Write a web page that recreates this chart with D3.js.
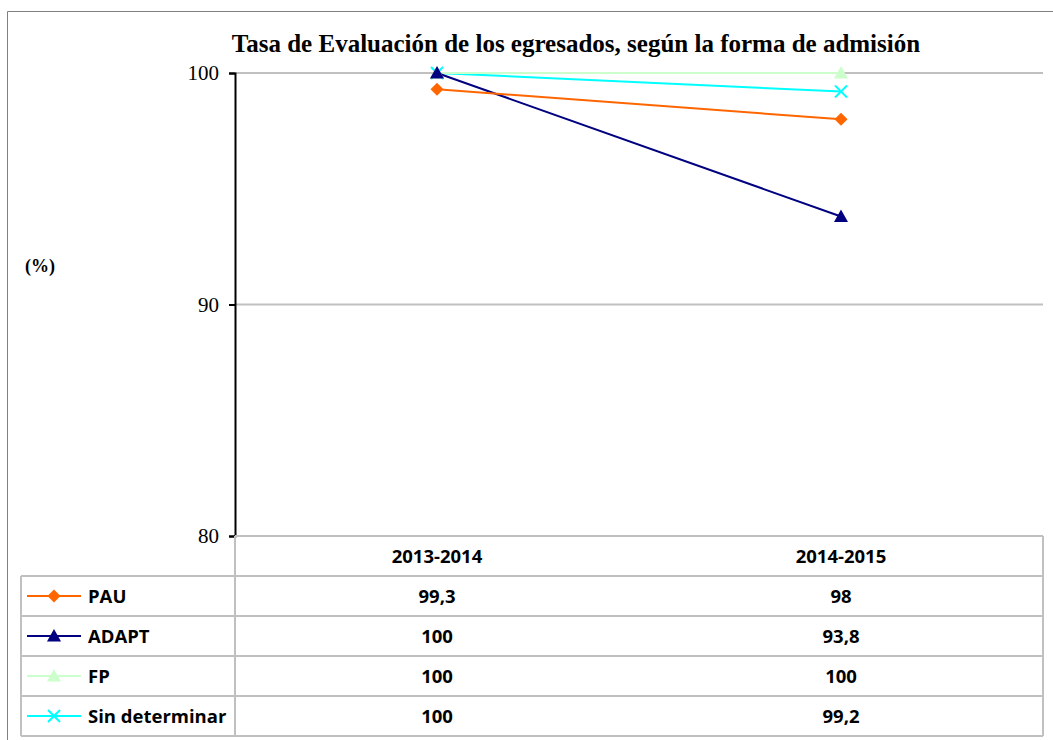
<!DOCTYPE html>
<html>
<head>
<meta charset="utf-8">
<script src="https://cdn.jsdelivr.net/npm/d3@7/dist/d3.min.js"></script>
<style>
  body { margin: 0; background: #fff; }
  svg { display: block; }
</style>
</head>
<body>
<svg id="chart" width="1053" height="740"></svg>
<script>
// Academic years on the x axis
const years = ["2013-2014", "2014-2015"];
// Evaluation rate (%) by admission route
const seriesNames = ["PAU", "ADAPT", "FP", "Sin determinar"];
const pauValues = [99.3, 98];
const adaptValues = [100, 93.8];
const fpValues = [100, 100];
const sinDetValues = [100, 99.2];
const seriesColors = ["#FF6600", "#000080", "#CCFFCC", "#00FFFF"];
const seriesMarkers = ["diamond", "triangle", "triangle", "cross"];
const yTicks = [80, 90, 100];
const chartTitle = "Tasa de Evaluación de los egresados, según la forma de admisión";
const axisTitle = "(%)";

const series = seriesNames.map((name, i) => ({
  name,
  values: [pauValues, adaptValues, fpValues, sinDetValues][i],
  color: seriesColors[i],
  marker: seriesMarkers[i]
}));

const svg = d3.select("#chart");
const plot = { left: 235, right: 1043, top: 73, bottom: 536 };
const rowH = 40;

const x = d3.scaleBand().domain(years).range([plot.left, plot.right]);
const y = d3.scaleLinear().domain([80, 100]).range([plot.bottom, plot.top]);

const fmt = v => String(v).replace(".", ",");
const grid = "#c0c0c0";
const serif = "Liberation Serif, Times New Roman, serif";

// outer chart frame
svg.append("path")
  .attr("d", "M7.5,740 L7.5,11.5 L1053,11.5")
  .attr("fill", "none").attr("stroke", "#808080").attr("stroke-width", 1);

// title
svg.append("text")
  .attr("x", 576).attr("y", 52)
  .attr("text-anchor", "middle")
  .attr("font-family", serif)
  .attr("font-weight", "bold").attr("font-size", 25)
  .text(chartTitle);

// axis title
svg.append("text")
  .attr("x", 25).attr("y", 272)
  .attr("font-family", serif)
  .attr("font-weight", "bold").attr("font-size", 18)
  .text(axisTitle);

// horizontal gridlines
svg.append("g").selectAll("line")
  .data(yTicks.filter(t => t !== 80))
  .join("line")
  .attr("x1", plot.left).attr("x2", plot.right)
  .attr("y1", d => y(d)).attr("y2", d => y(d))
  .attr("stroke", grid).attr("stroke-width", 2);

// y axis
const yAxis = d3.axisLeft(y).tickValues(yTicks).tickSize(6).tickPadding(10);
const gy = svg.append("g").attr("transform", `translate(${plot.left},0)`).call(yAxis);
gy.select(".domain").attr("stroke", "#000").attr("stroke-width", 2);
gy.selectAll(".tick line").attr("stroke", "#000").attr("stroke-width", 2);
gy.selectAll(".tick text")
  .attr("font-family", serif)
  .attr("font-size", 21).attr("fill", "#000");

// data table below the plot
const tbl = svg.append("g");
const tableTop = plot.bottom;
const tableLeft = 21;
const nRows = series.length;
// horizontal rules
tbl.append("line").attr("x1", plot.left).attr("x2", plot.right)
  .attr("y1", tableTop).attr("y2", tableTop).attr("stroke", grid).attr("stroke-width", 2);
d3.range(1, nRows + 2).forEach(r => {
  tbl.append("line").attr("x1", tableLeft).attr("x2", plot.right)
    .attr("y1", tableTop + r * rowH).attr("y2", tableTop + r * rowH)
    .attr("stroke", grid).attr("stroke-width", 2);
});
// vertical rules
tbl.append("line").attr("x1", tableLeft).attr("x2", tableLeft)
  .attr("y1", tableTop + rowH).attr("y2", tableTop + (nRows + 1) * rowH)
  .attr("stroke", grid).attr("stroke-width", 2);
[plot.left, plot.right].forEach(xx => {
  tbl.append("line").attr("x1", xx).attr("x2", xx)
    .attr("y1", tableTop).attr("y2", tableTop + (nRows + 1) * rowH)
    .attr("stroke", grid).attr("stroke-width", 2);
});

const tableFont = "Open Sans, Noto Sans, sans-serif";
const tableSize = 18.5;
// header
tbl.selectAll(".hdr").data(years).join("text")
  .attr("x", d => x(d) + x.bandwidth() / 2)
  .attr("y", tableTop + rowH / 2 + 7)
  .attr("text-anchor", "middle")
  .attr("font-family", tableFont).attr("font-weight", "bold").attr("font-size", tableSize)
  .text(d => d);

function markerPath(type) {
  if (type === "diamond") return "M0,-6.5 L6.5,0 L0,6.5 L-6.5,0 Z";
  if (type === "triangle") return "M0,-7 L7,5.5 L-7,5.5 Z";
  return "M-6,-6 L6,6 M-6,6 L6,-6";
}
function drawMarker(g, type, color, cx, cy) {
  const p = g.append("path").attr("d", markerPath(type))
    .attr("transform", `translate(${cx},${cy})`);
  if (type === "cross") p.attr("fill", "none").attr("stroke", color).attr("stroke-width", 2);
  else p.attr("fill", color).attr("stroke", "none");
}

series.forEach((s, i) => {
  const cy = tableTop + (i + 1) * rowH + rowH / 2;
  tbl.append("line").attr("x1", 27).attr("x2", 81).attr("y1", cy).attr("y2", cy)
    .attr("stroke", s.color).attr("stroke-width", 2);
  drawMarker(tbl, s.marker, s.color, 54, cy);
  tbl.append("text").attr("x", 88).attr("y", cy + 7)
    .attr("font-family", tableFont).attr("font-weight", "bold").attr("font-size", tableSize)
    .text(s.name);
  years.forEach((yr, j) => {
    tbl.append("text")
      .attr("x", x(yr) + x.bandwidth() / 2).attr("y", cy + 7)
      .attr("text-anchor", "middle")
      .attr("font-family", tableFont).attr("font-weight", "bold").attr("font-size", tableSize)
      .text(fmt(s.values[j]));
  });
});

// lines and markers (drawn in reverse so PAU sits on top)
const line = d3.line().x((d, j) => x(years[j]) + x.bandwidth() / 2).y(d => y(d));
const lines = svg.append("g");
[...series].reverse().forEach(s => {
  lines.append("path").datum(s.values).attr("d", line)
    .attr("fill", "none").attr("stroke", s.color).attr("stroke-width", 2);
});
[...series].reverse().forEach(s => {
  s.values.forEach((v, j) => drawMarker(lines, s.marker, s.color, x(years[j]) + x.bandwidth() / 2, y(v)));
});
</script>
</body>
</html>
